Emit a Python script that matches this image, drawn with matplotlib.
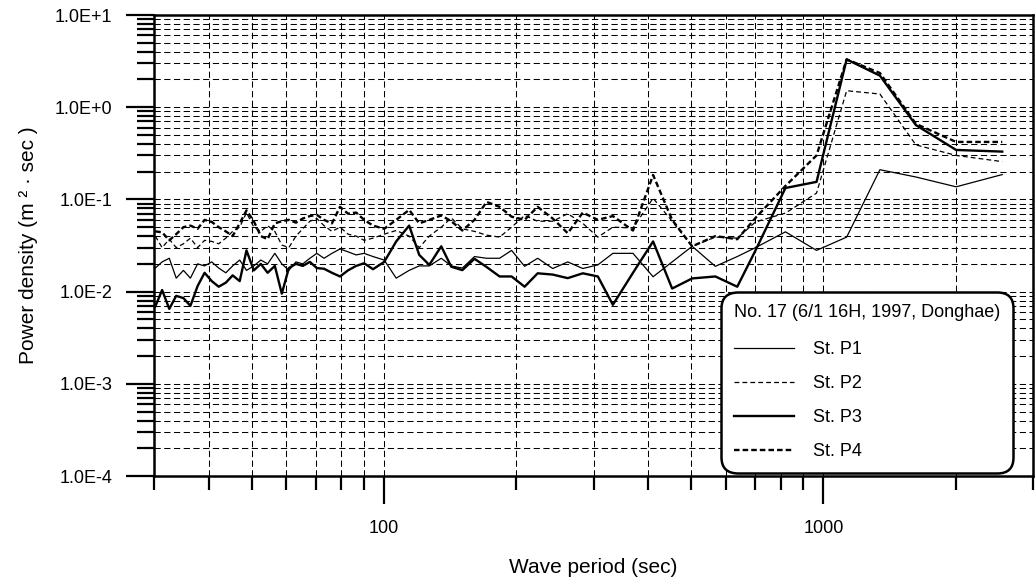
import numpy as np
import matplotlib
matplotlib.use('Agg')
import matplotlib.pyplot as plt
from matplotlib.ticker import FixedLocator, LogLocator, FuncFormatter, NullFormatter

plt.rcParams['font.family'] = ['Liberation Sans', 'DejaVu Sans']
plt.rcParams['lines.scale_dashes'] = False

# wave period (sec) of each spectral estimate
period = [30.2, 31.3, 32.5, 33.7, 35.0, 36.3, 37.7, 39.1, 40.6, 42.1,
          43.7, 45.3, 47.0, 48.7, 50.6, 52.5, 54.4, 56.5, 58.6, 60.8,
          63.1, 65.4, 67.9, 70.4, 73.1, 76.2, 79.5, 82.9, 86.5, 90.2,
          94.5, 100.2, 106.7, 114.2, 120.4, 126.9, 135.1, 142.4, 150.9, 160.8,
          171.3, 183.4, 195.3, 209.1, 223.9, 242.3, 262.1, 283.6, 306.9, 332.0,
          368.9, 409.9, 452.9, 503, 568, 637, 701, 820, 965, 1130,
          1345, 1624, 2005, 2553]

# power density (m^2 sec) at stations P1..P4
p1 = [0.018, 0.021, 0.023, 0.014, 0.017, 0.014, 0.020, 0.019, 0.021, 0.018,
      0.016, 0.019, 0.022, 0.017, 0.019, 0.022, 0.020, 0.026, 0.020, 0.017,
      0.021, 0.020, 0.023, 0.026, 0.023, 0.026, 0.029, 0.027, 0.025, 0.026,
      0.024, 0.022, 0.014, 0.017, 0.019, 0.019, 0.023, 0.019, 0.018, 0.024,
      0.023, 0.023, 0.028, 0.0188, 0.023, 0.0178, 0.021, 0.0178, 0.0195, 0.026,
      0.026, 0.0145, 0.021, 0.031, 0.0188, 0.024, 0.030, 0.0445, 0.028, 0.039,
      0.21, 0.175, 0.137, 0.186]

p2 = [0.040, 0.030, 0.037, 0.030, 0.033, 0.038, 0.030, 0.036, 0.035, 0.033,
      0.038, 0.045, 0.050, 0.072, 0.050, 0.045, 0.052, 0.045, 0.032, 0.030,
      0.040, 0.048, 0.058, 0.062, 0.052, 0.045, 0.050, 0.042, 0.040, 0.036,
      0.038, 0.042, 0.046, 0.040, 0.030, 0.040, 0.050, 0.063, 0.048, 0.045,
      0.041, 0.039, 0.050, 0.067, 0.058, 0.058, 0.070, 0.055, 0.039, 0.050,
      0.049, 0.103, 0.058, 0.031, 0.039, 0.038, 0.057, 0.071, 0.117, 1.51,
      1.39, 0.39, 0.30, 0.257]

p3 = [0.0069, 0.0104, 0.0065, 0.0090, 0.0085, 0.0070, 0.0115, 0.0160, 0.0130, 0.0113,
      0.0125, 0.0150, 0.0130, 0.028, 0.017, 0.020, 0.016, 0.019, 0.0095, 0.018,
      0.020, 0.019, 0.021, 0.018, 0.0177, 0.016, 0.0146, 0.017, 0.019, 0.0203,
      0.0175, 0.021, 0.035, 0.052, 0.025, 0.0195, 0.031, 0.0186, 0.0171, 0.0227,
      0.0185, 0.0146, 0.0146, 0.0113, 0.0158, 0.0153, 0.0140, 0.0158, 0.0146, 0.0072,
      0.016, 0.035, 0.0108, 0.0139, 0.0146, 0.0113, 0.028, 0.133, 0.155, 3.3,
      2.2, 0.64, 0.344, 0.33]

p4 = [0.045, 0.044, 0.036, 0.042, 0.050, 0.052, 0.048, 0.060, 0.057, 0.050,
      0.045, 0.040, 0.055, 0.076, 0.058, 0.040, 0.037, 0.055, 0.058, 0.060,
      0.056, 0.062, 0.066, 0.068, 0.060, 0.055, 0.083, 0.070, 0.072, 0.060,
      0.052, 0.048, 0.060, 0.077, 0.055, 0.060, 0.067, 0.058, 0.046, 0.060,
      0.094, 0.083, 0.065, 0.060, 0.083, 0.062, 0.043, 0.072, 0.060, 0.066,
      0.046, 0.184, 0.060, 0.031, 0.040, 0.037, 0.063, 0.14, 0.30, 3.3,
      2.35, 0.66, 0.42, 0.42]

fig = plt.figure(figsize=(10.35, 5.84), dpi=100)
ax = fig.add_axes([0.1488, 0.1849, 0.8493, 0.7894])

ax.plot(period, p1, color='black', lw=0.9, label='St. P1')
ax.plot(period, p2, color='black', lw=0.9, ls=(0, (3.5, 2.2)), label='St. P2')
ax.plot(period, p3, color='black', lw=1.7, label='St. P3')
ax.plot(period, p4, color='black', lw=1.7, ls=(0, (4, 2.2)), label='St. P4')

ax.set_xscale('log')
ax.set_yscale('log')
ax.set_xlim(30, 3000)
ax.set_ylim(1e-4, 10)

ax.xaxis.set_major_locator(FixedLocator([100, 1000]))
ax.xaxis.set_major_formatter(FuncFormatter(lambda v, p: f'{v:g}'))
ax.xaxis.set_minor_locator(LogLocator(base=10, subs=np.arange(2, 10)))
ax.xaxis.set_minor_formatter(NullFormatter())
ax.yaxis.set_major_locator(LogLocator(base=10, numticks=10))
ax.yaxis.set_major_formatter(FuncFormatter(lambda v, p: f'1.0E{int(round(np.log10(v))):+d}'))
ax.yaxis.set_minor_locator(LogLocator(base=10, subs=np.arange(2, 10), numticks=10))
ax.yaxis.set_minor_formatter(NullFormatter())

ax.set_axisbelow(True)
ax.grid(True, which='both', color='black', lw=0.75, ls=(0, (4.5, 2.5)))

ax.tick_params(axis='x', which='major', direction='out', length=20, width=1.6, labelsize=13, pad=12)
ax.tick_params(axis='x', which='minor', direction='out', length=10, width=1.6)
ax.tick_params(axis='y', which='major', direction='out', length=20, width=1.6, labelsize=13, pad=10)
ax.tick_params(axis='y', which='minor', direction='out', length=12, width=1.6)
for s in ax.spines.values():
    s.set_linewidth(1.8)

ax.set_xlabel('Wave period (sec)', fontsize=15, labelpad=15)
ax.set_ylabel('Power density (m ² · sec )', fontsize=15, labelpad=12)

leg = ax.legend(title='No. 17 (6/1 16H, 1997, Donghae)', loc='lower right',
                bbox_to_anchor=(0.977, 0.0065), borderaxespad=0, fontsize=13,
                title_fontsize=13, alignment='left', handlelength=3.3,
                handletextpad=1.1, labelspacing=0.95, borderpad=0.7,
                frameon=True, fancybox=True, framealpha=1, edgecolor='black')
leg.get_frame().set_linewidth(1.8)
leg.get_frame().set_boxstyle('round', pad=0, rounding_size=0.9)
leg._legend_box.sep = 14

fig.savefig('out.png', dpi=100)
